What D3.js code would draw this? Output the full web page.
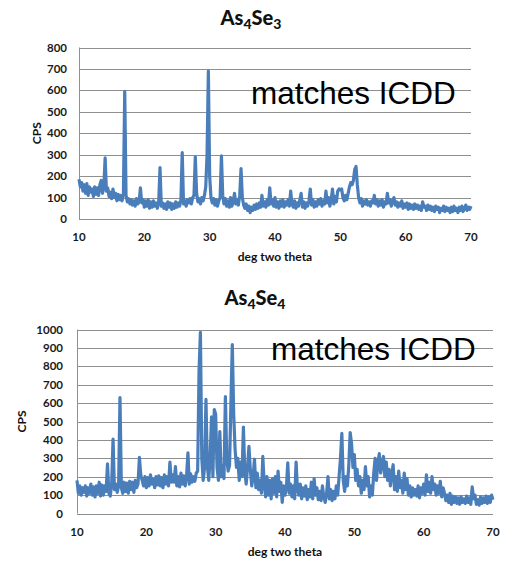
<!DOCTYPE html>
<html>
<head>
<meta charset="utf-8">
<script src="https://cdn.jsdelivr.net/npm/d3@7"></script>
<style>
  body { margin: 0; background: #fff; }
  svg { display: block; }
  .tick-label { font-family: Lato, "Open Sans", sans-serif; font-weight: bold; font-size: 11.5px; fill: #1a1a1a; }
  .axis-title { font-family: Lato, "Open Sans", sans-serif; font-weight: bold; font-size: 12px; fill: #111; }
  .chart-title { font-family: Lato, "Open Sans", sans-serif; font-weight: 900; font-size: 20px; fill: #111; }
  .note { font-family: "Liberation Sans", Arial, sans-serif; font-size: 31.5px; fill: #000; }
</style>
</head>
<body>
<svg id="chart" width="512" height="563"></svg>
<script>
// scan settings (deg two theta)
const scanStart = 10
const scanStep = 0.2

const xTicks = [10, 20, 30, 40, 50, 60, 70]
const as4se3YTicks = [0, 100, 200, 300, 400, 500, 600, 700, 800]
const as4se4YTicks = [0, 100, 200, 300, 400, 500, 600, 700, 800, 900, 1000]

// counts per second, one value per step, 10 -> 70 deg
const as4se3Counts = [
  185,150,170,130,160, 120,165,110,150,125, 140,105,150,115,145, 110,160,180,120,150,
  285,130,145,105,125, 95,140,100,120,85, 115,90,110,85,120, 595,110,80,95,70,
  90,65,85,60,95, 70,80,145,75,90, 55,85,60,90,50, 80,55,85,60,75,
  50,80,240,60,75, 50,70,45,80,55, 75,45,70,50,80, 55,75,60,90,310,
  70,85,60,90,75, 95,70,100,110,290, 120,80,95,70,100, 85,110,150,300,690,
  200,100,75,95,65, 90,60,85,100,295, 110,70,95,60,85, 55,100,60,80,120,
  70,90,65,110,235, 100,65,50,70,40, 60,30,55,40,65, 45,70,50,75,55,
  110,60,80,55,90, 65,145,70,90,60, 100,55,80,50,85, 60,90,55,80,65,
  90,60,130,70,55, 85,50,75,60,90, 120,55,80,50,75, 60,85,140,65,90,
  55,80,60,90,70, 95,60,85,70,130, 75,100,60,90,140, 70,105,80,130,140,
  135,140,100,85,110, 90,120,150,170,160, 180,230,245,160,100, 75,95,60,85,70,
  90,65,80,60,85, 75,110,70,90,60, 85,65,90,55,80, 70,120,75,90,60,
  85,100,65,80,55, 75,60,85,50,70, 55,75,45,70,50, 65,45,70,50,65,
  45,60,40,80,55, 60,40,65,45,60, 40,55,35,60,45, 55,30,50,40,60,
  35,55,40,50,30, 55,35,60,40,50, 30,55,40,60,35, 50,65,40,55,45,
  60
]

const as4se4Counts = [
  180,110,150,100,140, 115,150,95,140,110, 160,100,145,90,150, 110,170,95,155,100,
  150,120,270,110,95, 160,405,130,160,115, 150,630,140,110,170, 120,165,110,175,130,
  170,115,180,140,160, 305,210,180,150,200, 140,195,150,210,160, 185,140,200,155,205,
  150,195,140,210,160, 200,150,280,170,210, 170,255,150,200,145, 220,160,205,150,200,
  330,160,215,170,200, 175,220,230,770,985, 300,180,250,620,260, 180,300,525,200,565,
  540,250,180,445,200, 260,190,635,300,230, 260,600,918,540,350, 250,300,180,280,200,
  470,230,160,250,365, 240,150,200,295,140, 220,130,180,110,310, 160,90,200,100,180,
  80,190,110,200,90, 230,120,170,60,150, 100,140,275,110,160, 90,150,80,280,130,
  100,160,80,140,95, 150,75,130,90,170, 80,190,100,140,75, 120,70,150,90,60,
  110,200,80,130,70, 120,80,150,100,200, 300,435,180,120,200, 150,260,440,380,250,
  320,180,240,150,200, 110,180,130,255,150, 200,90,150,100,220, 300,180,280,325,220,
  270,310,200,280,180, 240,150,220,265,130, 200,120,230,140,180, 110,220,130,190,100,
  150,90,140,100,130, 95,150,85,140,110, 160,100,210,120,170, 110,200,130,160,100,
  150,110,175,90,140, 110,70,100,60,110, 50,95,60,90,55, 85,50,90,60,80,
  55,95,60,85,50, 145,80,100,50,75, 45,90,55,85,60, 95,55,90,60,100,
  75
]

const svg = d3.select("#chart")

const drawChart = cfg => {
  const x = d3.scaleLinear().domain([10, 70]).range([cfg.left, cfg.right])
  const y = d3.scaleLinear().domain([0, cfg.yMax]).range([cfg.bottom, cfg.top])
  const g = svg.append("g")

  // gridlines
  g.append("g")
    .selectAll("line")
    .data(cfg.yTicks)
    .join("line")
    .attr("x1", cfg.left).attr("x2", cfg.right)
    .attr("y1", d => Math.round(y(d)) + 0.5).attr("y2", d => Math.round(y(d)) + 0.5)
    .attr("stroke", "#8f8f8f")
    .attr("stroke-width", 1)

  // left axis line
  g.append("line")
    .attr("x1", cfg.left + 0.5).attr("x2", cfg.left + 0.5)
    .attr("y1", y(cfg.yMax)).attr("y2", y(0))
    .attr("stroke", "#8f8f8f")

  // y tick labels
  g.append("g")
    .selectAll("text")
    .data(cfg.yTicks)
    .join("text")
    .attr("class", "tick-label")
    .attr("x", cfg.yLabelX)
    .attr("y", d => y(d))
    .attr("dy", "0.35em")
    .attr("text-anchor", "end")
    .text(d => d)

  // x tick labels
  g.append("g")
    .selectAll("text")
    .data(xTicks)
    .join("text")
    .attr("class", "tick-label")
    .attr("x", d => x(d))
    .attr("y", cfg.bottom + 22)
    .attr("text-anchor", "middle")
    .text(d => d)

  // the scan
  const line = d3.line()
    .x((d, i) => x(scanStart + i * scanStep))
    .y(d => y(d))
  g.append("path")
    .datum(cfg.counts)
    .attr("d", line)
    .attr("fill", "none")
    .attr("stroke", "#4a7ebb")
    .attr("stroke-width", 3.2)
    .attr("stroke-linejoin", "round")

  // titles
  const title = g.append("text")
    .attr("class", "chart-title")
    .attr("x", cfg.titleX)
    .attr("y", cfg.titleY)
    .attr("text-anchor", "middle")
  cfg.titleParts.forEach(p => {
    title.append("tspan")
      .attr("font-size", p.sub ? "14px" : null)
      .attr("dy", p.sub ? 4 : (p.after ? -4 : 0))
      .text(p.t)
  })

  g.append("text")
    .attr("class", "axis-title")
    .attr("x", (cfg.left + cfg.right) / 2)
    .attr("y", cfg.bottom + 42)
    .attr("text-anchor", "middle")
    .text("deg two theta")

  g.append("text")
    .attr("class", "axis-title")
    .attr("transform", `translate(${cfg.cpsX},${(y(0) + y(cfg.yMax)) / 2}) rotate(-90)`)
    .attr("text-anchor", "middle")
    .attr("dy", "0.35em")
    .text("CPS")

  g.append("text")
    .attr("class", "note")
    .attr("x", cfg.noteX)
    .attr("y", cfg.noteY)
    .text("matches ICDD")
}

drawChart({
  counts: as4se3Counts, yMax: 800, yTicks: as4se3YTicks,
  left: 79, right: 471, top: 47.5, bottom: 219,
  yLabelX: 67, cpsX: 37,
  titleX: 251, titleY: 25,
  titleParts: [{t: "As"}, {t: "4", sub: true}, {t: "Se", after: true}, {t: "3", sub: true}],
  noteX: 251, noteY: 104
})

drawChart({
  counts: as4se4Counts, yMax: 1000, yTicks: as4se4YTicks,
  left: 77, right: 493, top: 329.5, bottom: 513.5,
  yLabelX: 63, cpsX: 22,
  titleX: 255, titleY: 305,
  titleParts: [{t: "As"}, {t: "4", sub: true}, {t: "Se", after: true}, {t: "4", sub: true}],
  noteX: 271, noteY: 360
})
</script>
</body>
</html>
